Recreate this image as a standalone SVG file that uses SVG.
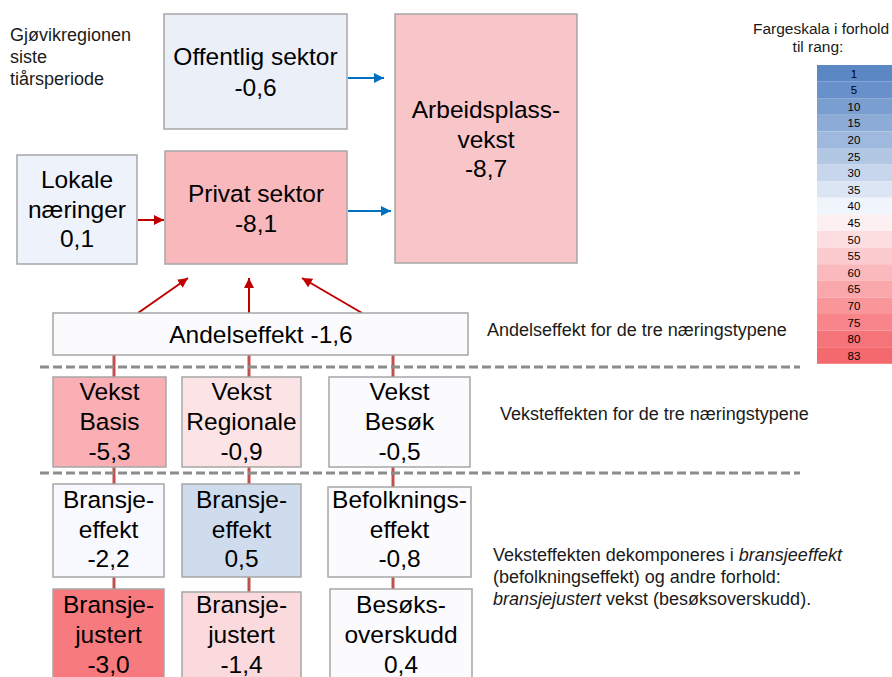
<svg xmlns="http://www.w3.org/2000/svg" width="892" height="677" viewBox="0 0 892 677">
<style>
.box{stroke:#a6a6a6;stroke-width:1.5}
.t{font-family:"Liberation Sans",Arial,sans-serif;font-size:24.5px;fill:#000;text-anchor:middle}
.n{font-family:"Liberation Sans",Arial,sans-serif;font-size:18px;fill:#1a1a1a}
.s{font-family:"Liberation Sans",Arial,sans-serif;font-size:11.5px;fill:#000;text-anchor:middle}
.lg{font-family:"Liberation Sans",Arial,sans-serif;font-size:15.5px;fill:#1a1a1a;text-anchor:middle}
.red{stroke:#c00000;stroke-width:2;fill:none}
.blue{stroke:#0070c0;stroke-width:2;fill:none}
.vl{stroke:#c0504d;stroke-width:3}
.dash{stroke:#8c8c8c;stroke-width:3;stroke-dasharray:9 4}
</style>
<defs>
<marker id="ar" markerUnits="userSpaceOnUse" markerWidth="12" markerHeight="12" refX="10" refY="5" orient="auto"><path d="M0,0 L10,5 L0,10 z" fill="#c00000"/></marker>
<marker id="ab" markerUnits="userSpaceOnUse" markerWidth="12" markerHeight="12" refX="10" refY="5" orient="auto"><path d="M0,0 L10,5 L0,10 z" fill="#0070c0"/></marker>
</defs>
<rect width="892" height="677" fill="#fff"/>

<g id="title">
<text class="n" x="10" y="41">Gjøvikregionen</text>
<text class="n" x="10" y="63">siste</text>
<text class="n" x="10" y="85">tiårsperiode</text>
</g>

<g id="connectors">
<line class="vl" x1="114" y1="355" x2="114" y2="590"/>
<line class="vl" x1="249" y1="355" x2="249" y2="592"/>
<line class="vl" x1="393" y1="355" x2="393" y2="590"/>
<line class="blue" x1="348" y1="78" x2="384" y2="78" marker-end="url(#ab)"/>
<line class="blue" x1="348" y1="211" x2="391" y2="211" marker-end="url(#ab)"/>
<line class="red" x1="138" y1="220" x2="164" y2="220" marker-end="url(#ar)"/>
<line class="red" x1="138" y1="313" x2="188" y2="278" marker-end="url(#ar)"/>
<line class="red" x1="249" y1="313" x2="249" y2="278" marker-end="url(#ar)"/>
<line class="red" x1="362" y1="313" x2="302" y2="278" marker-end="url(#ar)"/>
</g>

<g id="offentlig">
<rect class="box" x="164" y="14" width="183" height="115" fill="#eaeff8"/>
<text class="t" x="255.5" y="65">Offentlig sektor</text>
<text class="t" x="255.5" y="96">-0,6</text>
</g>

<g id="arbeidsplass">
<rect class="box" x="395" y="14" width="182" height="249" fill="#f8c6c9"/>
<text class="t" x="486" y="118">Arbeidsplass-</text>
<text class="t" x="486" y="148">vekst</text>
<text class="t" x="486" y="177">-8,7</text>
</g>

<g id="lokale">
<rect class="box" x="17" y="155" width="120" height="109" fill="#eef2fb"/>
<text class="t" x="77" y="188">Lokale</text>
<text class="t" x="77" y="218">næringer</text>
<text class="t" x="77" y="247">0,1</text>
</g>

<g id="privat">
<rect class="box" x="165" y="151" width="182" height="113" fill="#f9b8bc"/>
<text class="t" x="256" y="202">Privat sektor</text>
<text class="t" x="256" y="232">-8,1</text>
</g>

<g id="andelseffekt">
<rect class="box" x="53" y="313" width="415" height="42" fill="#fbfbfe"/>
<text class="t" x="261" y="343">Andelseffekt -1,6</text>
</g>

<g id="dashes">
<line class="dash" x1="40" y1="367" x2="800" y2="367"/>
<line class="dash" x1="40" y1="473" x2="800" y2="473"/>
</g>

<g id="vekst-basis">
<rect class="box" x="53" y="377" width="113" height="90" fill="#f9afb3"/>
<text class="t" x="109.5" y="400">Vekst</text>
<text class="t" x="109.5" y="430">Basis</text>
<text class="t" x="109.5" y="460">-5,3</text>
</g>
<g id="vekst-regionale">
<rect class="box" x="182" y="377" width="119" height="90" fill="#fce4e6"/>
<text class="t" x="241.5" y="400">Vekst</text>
<text class="t" x="241.5" y="430">Regionale</text>
<text class="t" x="241.5" y="460">-0,9</text>
</g>
<g id="vekst-besok">
<rect class="box" x="329" y="377" width="141" height="90" fill="#fbfafd"/>
<text class="t" x="399.5" y="400">Vekst</text>
<text class="t" x="399.5" y="430">Besøk</text>
<text class="t" x="399.5" y="460">-0,5</text>
</g>

<g id="bransjeeffekt-basis">
<rect class="box" x="53" y="484" width="111" height="93" fill="#f8f9fe"/>
<text class="t" x="108.5" y="508">Bransje-</text>
<text class="t" x="108.5" y="538">effekt</text>
<text class="t" x="108.5" y="567">-2,2</text>
</g>
<g id="bransjeeffekt-regionale">
<rect class="box" x="182" y="484" width="119" height="93" fill="#cfdcee"/>
<text class="t" x="241.5" y="508">Bransje-</text>
<text class="t" x="241.5" y="538">effekt</text>
<text class="t" x="241.5" y="567">0,5</text>
</g>
<g id="befolkningseffekt">
<rect class="box" x="328" y="487" width="143" height="90" fill="#fbfafd"/>
<text class="t" x="399.5" y="508">Befolknings-</text>
<text class="t" x="399.5" y="538">effekt</text>
<text class="t" x="399.5" y="567">-0,8</text>
</g>

<g id="bransjejustert-basis">
<rect class="box" x="53" y="589" width="111" height="100" fill="#f77b7e"/>
<text class="t" x="108.5" y="613">Bransje-</text>
<text class="t" x="108.5" y="643">justert</text>
<text class="t" x="108.5" y="673">-3,0</text>
</g>
<g id="bransjejustert-regionale">
<rect class="box" x="182" y="592" width="119" height="100" fill="#fbdadd"/>
<text class="t" x="241.5" y="613">Bransje-</text>
<text class="t" x="241.5" y="643">justert</text>
<text class="t" x="241.5" y="673">-1,4</text>
</g>
<g id="besoksoverskudd">
<rect class="box" x="330" y="589" width="142" height="100" fill="#fbfafd"/>
<text class="t" x="401" y="613">Besøks-</text>
<text class="t" x="401" y="643">overskudd</text>
<text class="t" x="401" y="673">0,4</text>
</g>

<g id="notes">
<text class="n" x="487" y="336">Andelseffekt for de tre næringstypene</text>
<text class="n" x="500" y="420">Veksteffekten for de tre næringstypene</text>
<text class="n" x="493" y="561">Veksteffekten dekomponeres i <tspan font-style="italic">bransjeeffekt</tspan></text>
<text class="n" x="493" y="583">(befolkningseffekt) og andre forhold:</text>
<text class="n" x="493" y="605"><tspan font-style="italic">bransjejustert</tspan> vekst (besøksoverskudd).</text>
</g>

<g id="legend">
<text class="lg" x="821" y="34">Fargeskala i forhold</text>
<text class="lg" x="818" y="52">til rang:</text>
<rect x="817" y="65" width="75" height="16.6" fill="#5b87c5"/>
<rect x="817" y="81.6" width="75" height="16.6" fill="#6891cb"/>
<rect x="817" y="98.2" width="75" height="16.6" fill="#7a9ed0"/>
<rect x="817" y="114.8" width="75" height="16.6" fill="#8cabd6"/>
<rect x="817" y="131.4" width="75" height="16.6" fill="#9eb9dd"/>
<rect x="817" y="148" width="75" height="16.6" fill="#b2c7e4"/>
<rect x="817" y="164.6" width="75" height="16.6" fill="#c7d6ec"/>
<rect x="817" y="181.2" width="75" height="16.6" fill="#dce5f3"/>
<rect x="817" y="197.8" width="75" height="16.6" fill="#f0f4fb"/>
<rect x="817" y="214.4" width="75" height="16.6" fill="#fdf0f2"/>
<rect x="817" y="231" width="75" height="16.6" fill="#fcdee1"/>
<rect x="817" y="247.6" width="75" height="16.6" fill="#fbcbcf"/>
<rect x="817" y="264.2" width="75" height="16.6" fill="#fab9bd"/>
<rect x="817" y="280.8" width="75" height="16.6" fill="#f9a7ab"/>
<rect x="817" y="297.4" width="75" height="16.6" fill="#f8969a"/>
<rect x="817" y="314" width="75" height="16.6" fill="#f7858a"/>
<rect x="817" y="330.6" width="75" height="16.6" fill="#f57479"/>
<rect x="817" y="347.2" width="75" height="16.6" fill="#f3696e"/>
<text class="s" x="854" y="77.5">1</text>
<text class="s" x="854" y="94.1">5</text>
<text class="s" x="854" y="110.7">10</text>
<text class="s" x="854" y="127.3">15</text>
<text class="s" x="854" y="143.9">20</text>
<text class="s" x="854" y="160.5">25</text>
<text class="s" x="854" y="177.1">30</text>
<text class="s" x="854" y="193.7">35</text>
<text class="s" x="854" y="210.3">40</text>
<text class="s" x="854" y="226.9">45</text>
<text class="s" x="854" y="243.5">50</text>
<text class="s" x="854" y="260.1">55</text>
<text class="s" x="854" y="276.7">60</text>
<text class="s" x="854" y="293.3">65</text>
<text class="s" x="854" y="309.9">70</text>
<text class="s" x="854" y="326.5">75</text>
<text class="s" x="854" y="343.1">80</text>
<text class="s" x="854" y="359.7">83</text>
</g>
</svg>
